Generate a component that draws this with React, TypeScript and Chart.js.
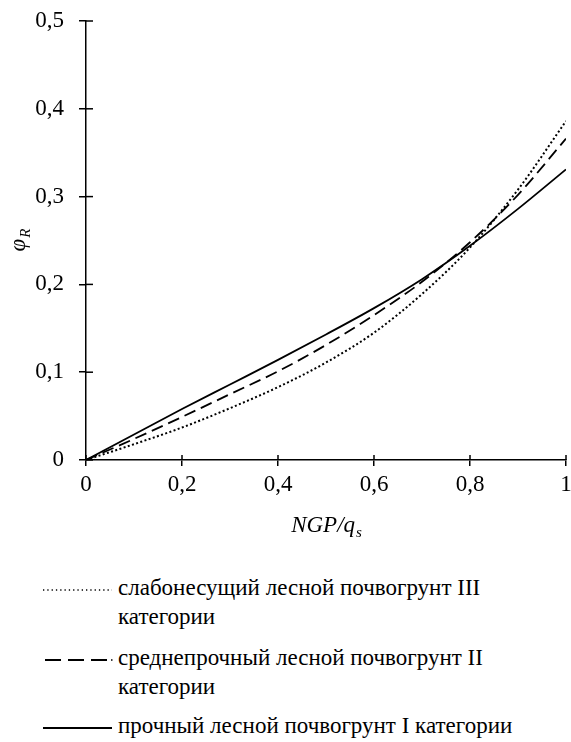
import React, { useEffect, useRef } from "react";
import { Chart, registerables } from "chart.js";

Chart.register(...registerables);

const xValues = [0, 0.1, 0.2, 0.3, 0.4, 0.5, 0.6, 0.7, 0.8, 0.9, 1.0];
const seriesIII = [0, 0.018, 0.037, 0.059, 0.083, 0.111, 0.145, 0.189, 0.242, 0.308, 0.386];
const seriesII = [0, 0.024, 0.049, 0.075, 0.101, 0.131, 0.165, 0.203, 0.248, 0.302, 0.366];
const seriesI = [0, 0.029, 0.058, 0.086, 0.114, 0.143, 0.173, 0.206, 0.244, 0.286, 0.331];

const labelIII = ["слабонесущий лесной почвогрунт III", "категории"];
const labelII = ["среднепрочный лесной почвогрунт II", "категории"];
const labelI = ["прочный лесной почвогрунт I категории"];

const FONT = '"Liberation Serif", serif';
const FS = 23;

const fmt = (v: number) => {
  const r = Math.round(v * 10) / 10;
  if (r === 0) return "0";
  if (r === 1) return "1";
  return r.toFixed(1).replace(".", ",");
};

const extrasPlugin = {
  id: "extras",
  afterDraw(chart: any) {
    const ctx = chart.ctx;
    const xs = chart.scales.x;
    const ys = chart.scales.y;
    const area = chart.chartArea;
    ctx.save();
    ctx.strokeStyle = "#000";
    ctx.lineWidth = 1.5;
    xs.ticks.forEach((t: any) => {
      const px = xs.getPixelForValue(t.value);
      ctx.beginPath();
      ctx.moveTo(px, area.bottom);
      ctx.lineTo(px, area.bottom - 5);
      ctx.stroke();
    });
    ys.ticks.forEach((t: any) => {
      const py = ys.getPixelForValue(t.value);
      ctx.beginPath();
      ctx.moveTo(area.left, py);
      ctx.lineTo(area.left + 7, py);
      ctx.stroke();
    });
    ctx.fillStyle = "#000";
    ctx.textBaseline = "alphabetic";
    ctx.textAlign = "left";
    const mainFont = "italic " + FS + "px " + FONT;
    const subFont = "italic 15px " + FONT;
    ctx.font = mainFont;
    const xMain = "NGP/q";
    const wMain = ctx.measureText(xMain).width;
    ctx.font = subFont;
    const wSub = ctx.measureText("s").width;
    const cx = (area.left + area.right) / 2;
    const startX = cx - (wMain + wSub) / 2;
    ctx.font = mainFont;
    ctx.fillText(xMain, startX, 532);
    ctx.font = subFont;
    ctx.fillText("s", startX + wMain + 1, 537);
    ctx.save();
    ctx.translate(25, (area.top + area.bottom) / 2);
    ctx.rotate(-Math.PI / 2);
    ctx.font = mainFont;
    const yMain = "φ";
    const wy = ctx.measureText(yMain).width;
    ctx.font = subFont;
    const wyS = ctx.measureText("R").width;
    const sy = -(wy + wyS) / 2;
    ctx.font = mainFont;
    ctx.fillText(yMain, sy, 0);
    ctx.font = subFont;
    ctx.fillText("R", sy + wy + 1, 5);
    ctx.restore();
    ctx.restore();
  },
};

function LegendLine({ kind }: { kind: string }) {
  return (
    <svg width="80" height="10" style={{ display: "block" }}>
      {kind === "dotted" && (
        <line x1="3" y1="5" x2="72" y2="5" stroke="#000" strokeWidth="1.6" strokeDasharray="1.3 3" />
      )}
      {kind === "dashed" && (
        <>
          <line x1="5" y1="5" x2="67" y2="5" stroke="#000" strokeWidth="2" strokeDasharray="16 7" />
          <line x1="71" y1="5" x2="72.5" y2="5" stroke="#000" strokeWidth="1.5" />
        </>
      )}
      {kind === "solid" && <line x1="3" y1="5" x2="72" y2="5" stroke="#000" strokeWidth="2" />}
    </svg>
  );
}

export default function App() {
  const ref = useRef<HTMLCanvasElement | null>(null);

  useEffect(() => {
    if (!ref.current) return;
    const mk = (arr: number[]) => xValues.map((x, i) => ({ x, y: arr[i] }));
    const chart = new Chart(ref.current, {
      type: "line",
      data: {
        datasets: [
          {
            label: labelIII.join(" "),
            data: mk(seriesIII),
            borderColor: "#000",
            borderWidth: 2,
            borderDash: [2, 2.4],
            pointRadius: 0,
            cubicInterpolationMode: "monotone",
          },
          {
            label: labelII.join(" "),
            data: mk(seriesII),
            borderColor: "#000",
            borderWidth: 1.8,
            borderDash: [12, 6],
            pointRadius: 0,
            cubicInterpolationMode: "monotone",
          },
          {
            label: labelI.join(" "),
            data: mk(seriesI),
            borderColor: "#000",
            borderWidth: 1.8,
            pointRadius: 0,
            cubicInterpolationMode: "monotone",
          },
        ],
      },
      options: {
        animation: false,
        responsive: false,
        layout: { padding: { top: 21, right: 5, left: 0, bottom: 0 } },
        plugins: { legend: { display: false }, tooltip: { enabled: false } },
        scales: {
          x: {
            type: "linear",
            min: 0,
            max: 1,
            ticks: {
              stepSize: 0.2,
              color: "#000",
              font: { family: FONT, size: FS },
              padding: 5,
              maxRotation: 0,
              callback: (v: any) => fmt(Number(v)),
            },
            grid: { drawOnChartArea: false, drawTicks: true, tickLength: 6, color: "#000", lineWidth: 1.5 },
            border: { display: true, color: "#000", width: 1.5 },
            afterFit: (s: any) => {
              s.height = 100;
              s.paddingLeft = 0;
              s.paddingRight = 0;
            },
          },
          y: {
            type: "linear",
            min: 0,
            max: 0.5,
            ticks: {
              stepSize: 0.1,
              color: "#000",
              font: { family: FONT, size: FS },
              padding: 15,
              callback: (v: any) => fmt(Number(v)),
            },
            grid: { drawOnChartArea: false, drawTicks: true, tickLength: 7, color: "#000", lineWidth: 1.5 },
            border: { display: true, color: "#000", width: 1.5 },
            afterFit: (s: any) => {
              s.width = 86;
              s.paddingTop = 0;
              s.paddingBottom = 0;
            },
          },
        },
      },
      plugins: [extrasPlugin],
    });
    return () => chart.destroy();
  }, []);

  const textStyle: React.CSSProperties = {
    position: "absolute",
    left: 118,
    fontFamily: FONT,
    fontSize: FS,
    lineHeight: "29px",
    color: "#000",
    whiteSpace: "nowrap",
  };

  const entries = [
    { kind: "dotted", lines: labelIII, top: 573, lineY: 590 },
    { kind: "dashed", lines: labelII, top: 643, lineY: 660 },
    { kind: "solid", lines: labelI, top: 711, lineY: 728 },
  ];

  return (
    <div
      style={{
        position: "fixed",
        left: 0,
        top: 0,
        width: 571,
        height: 742,
        overflow: "hidden",
        background: "#fff",
      }}
    >
      <canvas ref={ref} width={571} height={560} style={{ position: "absolute", left: 0, top: 0 }} />
      {entries.map((e) => (
        <React.Fragment key={e.kind}>
          <div style={{ position: "absolute", left: 40, top: e.lineY - 5 }}>
            <LegendLine kind={e.kind} />
          </div>
          <div style={{ ...textStyle, top: e.top }}>
            {e.lines.map((l, i) => (
              <div key={i}>{l}</div>
            ))}
          </div>
        </React.Fragment>
      ))}
    </div>
  );
}
